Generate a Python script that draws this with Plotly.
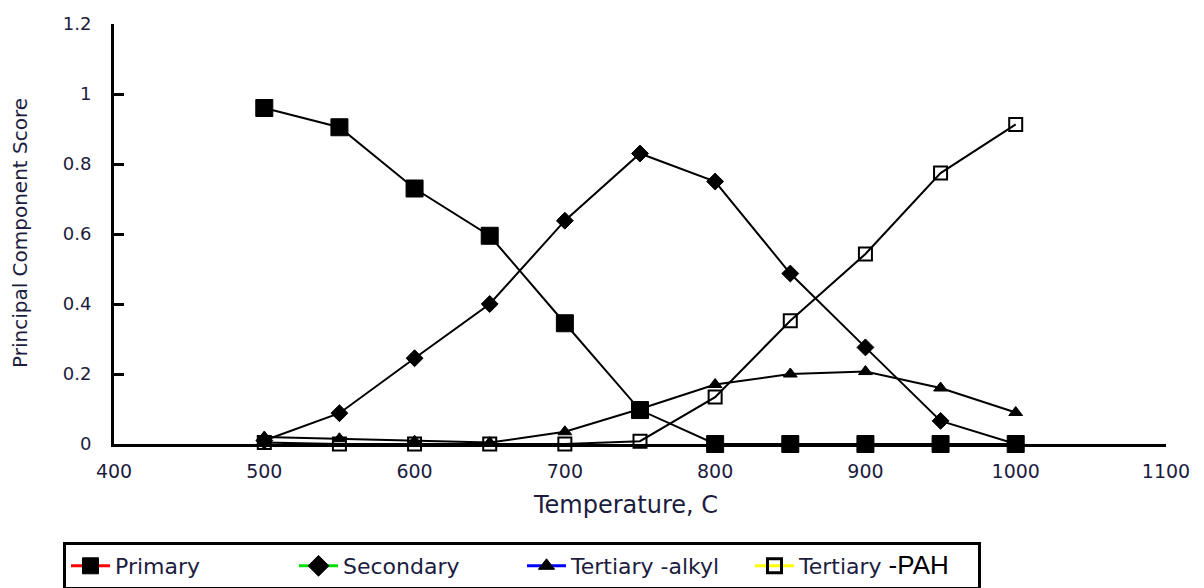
import plotly.graph_objects as go

temperature = [500, 550, 600, 650, 700, 750, 800, 850, 900, 950, 1000]
primary = [0.96, 0.905, 0.73, 0.595, 0.345, 0.097, 0, 0, 0, 0, 0]
secondary = [0.01, 0.088, 0.245, 0.40, 0.638, 0.83, 0.75, 0.487, 0.276, 0.066, 0.0]
tertiary_alkyl = [0.02, 0.015, 0.008, 0.004, 0.035, 0.10, 0.17, 0.20, 0.207, 0.16, 0.09]
tertiary_pah = [0.004, 0.0, 0.0, 0.0, 0.0, 0.008, 0.134, 0.352, 0.543, 0.774, 0.913]

series_names = ["Primary", "Secondary", "Tertiary -alkyl",
                "Tertiary <span style='font-family:Liberation Sans, Arial;font-size:26px;fill:#000000;color:#000000'>-PAH</span>"]
legend_line_colors = ["#ff0000", "#00e000", "#0000ff", "#ffff00"]

FONT = "DejaVu Sans"
TXT = "#1c1c40"

styles = [
    dict(symbol="square", size=17, color="black", line=dict(color="black", width=1)),
    dict(symbol="diamond", size=13, color="black", line=dict(color="black", width=1)),
    dict(symbol="triangle-up", size=12, color="black", line=dict(color="black", width=1)),
    dict(symbol="square-open", size=13, color="black", line=dict(color="black", width=2)),
]
legend_styles = [
    dict(symbol="square", size=19, color="black", line=dict(color="black", width=1)),
    dict(symbol="diamond", size=16, color="black", line=dict(color="black", width=1)),
    dict(symbol="triangle-up", size=14, color="black", line=dict(color="black", width=1)),
    dict(symbol="square-open", size=14, color="black", line=dict(color="black", width=3)),
]
data = [primary, secondary, tertiary_alkyl, tertiary_pah]

# The page body has an 8px margin, so figure pixels = screen pixels - 8
OFF = 8
W, H = 1204, 588
L, R, T, B = 114 - OFF, 1204 - (1166 - OFF), 24 - OFF, 588 - (444 - OFF)
pw, ph = W - L - R, H - T - B


def px_x(sx):
    return (sx - OFF - L) / pw


def px_y(sy):
    return (H - B - (sy - OFF)) / ph


fig = go.Figure()
for ys, st in zip(data, styles):
    fig.add_trace(go.Scatter(x=temperature, y=ys, mode="lines+markers",
                             line=dict(color="black", width=2),
                             marker=st, showlegend=False, cliponaxis=False))
for name, st, lc in zip(series_names, legend_styles, legend_line_colors):
    fig.add_trace(go.Scatter(x=[None], y=[None], mode="lines+markers", name=name,
                             line=dict(color=lc, width=3), marker=st))

fig.update_layout(
    width=W, height=H,
    margin=dict(l=L, r=R, t=T, b=B, autoexpand=False),
    paper_bgcolor="white", plot_bgcolor="white",
    font=dict(family=FONT, color=TXT, size=17),
    showlegend=True,
    legend=dict(orientation="h", x=(63 - OFF) / W, xref="container", xanchor="left",
                y=(H - (542 - OFF)) / H, yref="container", yanchor="top",
                bordercolor="black", borderwidth=3, bgcolor="white",
                font=dict(family=FONT, size=22, color=TXT),
                itemwidth=39, entrywidth=174, traceorder="normal",
                tracegroupgap=0),
    annotations=[
        dict(text="Temperature, C", x=px_x(625), y=px_y(505), xref="paper", yref="paper",
             xanchor="center", yanchor="middle", showarrow=False,
             font=dict(family=FONT, size=24, color=TXT)),
        dict(text="Principal Component Score", x=px_x(20), y=px_y(233), xref="paper", yref="paper",
             xanchor="center", yanchor="middle",
             showarrow=False, textangle=-90, font=dict(family=FONT, size=20, color=TXT)),
    ],
)

fig.update_xaxes(range=[400, 1100], tickvals=[400, 500, 600, 700, 800, 900, 1000, 1100],
                 showgrid=False, zeroline=False, showline=True, linecolor="black", linewidth=3,
                 ticks="", ticklabelstandoff=8, automargin=False,
                 tickfont=dict(family=FONT, size=19, color=TXT))
fig.update_yaxes(range=[0, 1.2], tickvals=[0, 0.2, 0.4, 0.6, 0.8, 1, 1.2],
                 ticktext=["0", "0.2", "0.4", "0.6", "0.8", "1", "1.2"],
                 showgrid=False, zeroline=False, showline=True, linecolor="black", linewidth=3,
                 ticks="inside", ticklen=10, tickwidth=3, tickcolor="black", ticklabelstandoff=16,
                 automargin=False,
                 tickfont=dict(family=FONT, size=18, color=TXT))

fig.write_html("out.html")
